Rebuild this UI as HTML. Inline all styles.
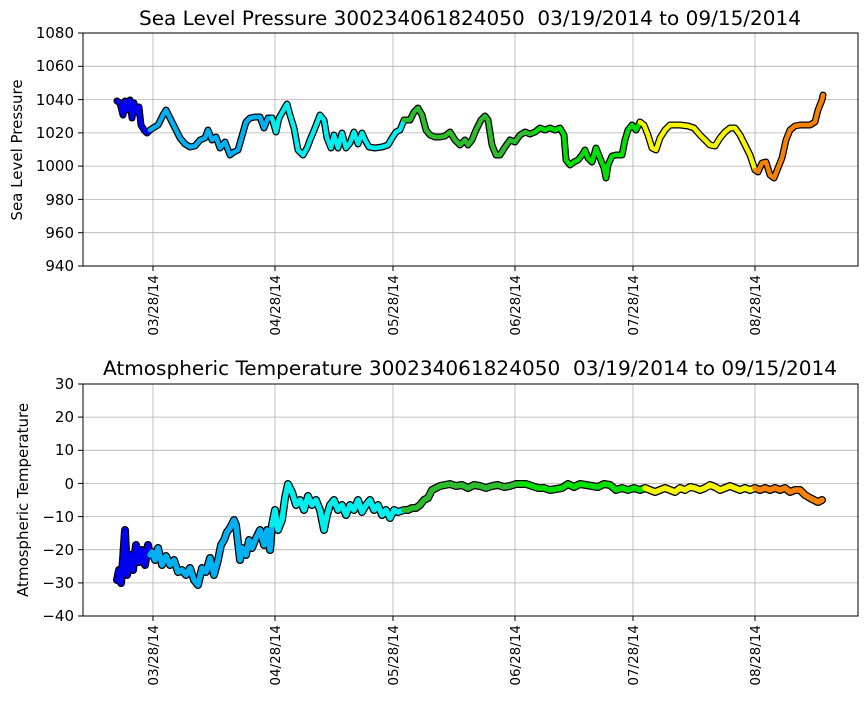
<!DOCTYPE html>
<html><head><meta charset="utf-8"><style>
body{margin:0;background:#fff}
svg text{font-family:"DejaVu Sans","Liberation Sans",sans-serif;fill:#000}
.t{white-space:pre}
</style></head><body>
<svg width="867" height="700" viewBox="0 0 867 700" xmlns="http://www.w3.org/2000/svg">
<g stroke="#b0b0b0" stroke-width="0.8">
<line x1="153" y1="33" x2="153" y2="266"/><line x1="275" y1="33" x2="275" y2="266"/><line x1="393" y1="33" x2="393" y2="266"/><line x1="515" y1="33" x2="515" y2="266"/><line x1="633" y1="33" x2="633" y2="266"/><line x1="755" y1="33" x2="755" y2="266"/>
<line x1="83" y1="66.3" x2="858" y2="66.3"/><line x1="83" y1="99.6" x2="858" y2="99.6"/><line x1="83" y1="132.9" x2="858" y2="132.9"/><line x1="83" y1="166.1" x2="858" y2="166.1"/><line x1="83" y1="199.4" x2="858" y2="199.4"/><line x1="83" y1="232.7" x2="858" y2="232.7"/>
<line x1="153" y1="384" x2="153" y2="616"/><line x1="275" y1="384" x2="275" y2="616"/><line x1="393" y1="384" x2="393" y2="616"/><line x1="515" y1="384" x2="515" y2="616"/><line x1="633" y1="384" x2="633" y2="616"/><line x1="755" y1="384" x2="755" y2="616"/>
<line x1="83" y1="417.1" x2="858" y2="417.1"/><line x1="83" y1="450.3" x2="858" y2="450.3"/><line x1="83" y1="483.4" x2="858" y2="483.4"/><line x1="83" y1="516.6" x2="858" y2="516.6"/><line x1="83" y1="549.7" x2="858" y2="549.7"/><line x1="83" y1="582.9" x2="858" y2="582.9"/>
</g>
<g fill="none" stroke-linejoin="round" stroke-linecap="round">
<g stroke="#000" stroke-width="7">
<polyline points="117,101 120,103 123,115 125,101 127,110 130,100 132,118 134,103 136,112 139,107 141,125 144,130 147,133 150,130 153,128 158,125 163,115 166,110 170,118 175,128 180,138 185,144 190,147 195,146 200,140 205,138 208,130 212,140 216,137 220,148 225,142 230,155 234,152 238,150 242,136 246,122 250,118 255,117 260,117 264,128 268,118 272,118 276,132 279,118 287,104 290,115 294,128 298,150 303,155 307,148 310,140 315,128 320,115 324,120 327,138 331,148 334,135 338,148 342,133 346,148 350,143 354,132 358,144 362,133 365,140 369,147 375,148 382,147 388,145 392,138 396,132 400,130 404,120 410,120 414,112 418,108 422,115 426,130 430,135 435,137 440,137 445,136 450,132 455,140 460,145 465,140 468,145 472,140 476,130 481,120 485,116 488,120 492,145 496,155 500,155 505,147 510,140 515,142 520,135 525,132 530,134 535,132 540,128 545,130 550,128 555,130 560,128 564,135 566,160 570,165 574,162 578,160 582,155 585,150 588,158 592,162 596,148 600,158 604,168 606,178 608,165 612,156 616,155 622,155 625,140 628,130 632,125 636,130 640,122 644,125 648,135 652,148 656,150 660,138 665,130 670,125 680,125 688,126 694,128 700,135 705,140 710,145 715,146 720,138 725,132 730,128 735,128 740,135 745,145 750,155 755,170 758,172 762,163 766,162 770,175 774,178 778,168 782,158 786,140 790,130 795,126 800,125 805,125 810,125 815,122 818,110 820,105 822,100 823,95"/>
<polyline stroke-width="8" points="117,580 119,570 121,583 123,560 125,530 127,575 130,555 133,570 136,545 139,562 142,550 145,565 148,545 150,555 152,552 155,560 158,548 162,565 166,556 170,565 174,560 178,572 182,570 186,575 190,568 194,580 198,585 202,568 206,572 210,558 214,575 218,560 221,545 224,540 227,532 230,528 234,520 236,525 240,560 242,548 246,555 249,540 252,548 256,538 260,530 264,545 267,530 270,550 272,525 275,510 278,530 282,520 285,498 288,484 292,492 296,505 300,500 304,510 308,496 312,505 316,500 320,510 324,530 327,515 330,505 334,500 338,510 342,505 346,515 350,505 354,510 358,500 362,512 366,505 370,500 374,510 378,505 382,515 386,510 390,518 394,510 398,512 404,510 408,510 412,508 416,508 420,505 424,500 428,498 432,490 436,488 440,486 445,485 450,484 456,486 462,485 468,488 474,485 480,486 486,488 492,486 498,485 504,487 510,486 516,484 520,484 526,484 532,486 538,488 544,488 550,490 556,489 562,488 568,484 574,487 580,484 586,485 592,486 598,487 604,484 610,485 616,490 622,488 628,490 634,488 640,490 645,488 650,490 655,492 660,490 665,488 670,490 675,492 680,488 685,490 690,487 695,488 700,490 705,488 710,485 715,487 720,490 725,488 730,486 735,488 740,490 745,488 750,490 755,488 760,490 765,488 770,490 775,488 780,490 785,488 790,492 795,490 800,490 805,495 810,498 814,500 818,502 822,500"/>
</g>
<g stroke-width="4.5">
<polyline stroke="#0000f0" points="117,101 120,103 123,115 125,101 127,110 130,100 132,118 134,103 136,112 139,107 141,125 144,130 147,133 150,130"/>
<polyline stroke="#00b0f0" points="150,130 153,128 158,125 163,115 166,110 170,118 175,128 180,138 185,144 190,147 195,146 200,140 205,138 208,130 212,140 216,137 220,148 225,142 230,155 234,152 238,150 242,136 246,122 250,118 255,117 260,117 264,128 268,118 272,118"/>
<polyline stroke="#00eeee" points="272,118 276,132 279,118 287,104 290,115 294,128 298,150 303,155 307,148 310,140 315,128 320,115 324,120 327,138 331,148 334,135 338,148 342,133 346,148 350,143 354,132 358,144 362,133 365,140 369,147 375,148 382,147 388,145 392,138 396,132 400,130 404,120"/>
<polyline stroke="#2cbc2c" points="404,120 410,120 414,112 418,108 422,115 426,130 430,135 435,137 440,137 445,136 450,132 455,140 460,145 465,140 468,145 472,140 476,130 481,120 485,116 488,120 492,145 496,155 500,155 505,147 510,140 515,142 520,135 525,132 530,134 535,132"/>
<polyline stroke="#00e000" points="535,132 540,128 545,130 550,128 555,130 560,128 564,135 566,160 570,165 574,162 578,160 582,155 585,150 588,158 592,162 596,148 600,158 604,168 606,178 608,165 612,156 616,155 622,155 625,140 628,130 632,125 636,130 640,122"/>
<polyline stroke="#f5f500" points="640,122 644,125 648,135 652,148 656,150 660,138 665,130 670,125 680,125 688,126 694,128 700,135 705,140 710,145 715,146 720,138 725,132 730,128 735,128 740,135 745,145 750,155 755,170"/>
<polyline stroke="#f58200" points="755,170 758,172 762,163 766,162 770,175 774,178 778,168 782,158 786,140 790,130 795,126 800,125 805,125 810,125 815,122 818,110 820,105 822,100 823,95"/>
</g>
<g stroke-width="5.5">
<polyline stroke="#0000f0" points="117,580 119,570 121,583 123,560 125,530 127,575 130,555 133,570 136,545 139,562 142,550 145,565 148,545 150,555"/>
<polyline stroke="#00b0f0" points="150,555 152,552 155,560 158,548 162,565 166,556 170,565 174,560 178,572 182,570 186,575 190,568 194,580 198,585 202,568 206,572 210,558 214,575 218,560 221,545 224,540 227,532 230,528 234,520 236,525 240,560 242,548 246,555 249,540 252,548 256,538 260,530 264,545 267,530 270,550 272,525"/>
<polyline stroke="#00eeee" points="272,525 275,510 278,530 282,520 285,498 288,484 292,492 296,505 300,500 304,510 308,496 312,505 316,500 320,510 324,530 327,515 330,505 334,500 338,510 342,505 346,515 350,505 354,510 358,500 362,512 366,505 370,500 374,510 378,505 382,515 386,510 390,518 394,510 398,512 404,510"/>
<polyline stroke="#2cbc2c" points="404,510 408,510 412,508 416,508 420,505 424,500 428,498 432,490 436,488 440,486 445,485 450,484 456,486 462,485 468,488 474,485 480,486 486,488 492,486 498,485 504,487 510,486 516,484 520,484"/>
<polyline stroke="#00e000" points="520,484 526,484 532,486 538,488 544,488 550,490 556,489 562,488 568,484 574,487 580,484 586,485 592,486 598,487 604,484 610,485 616,490 622,488 628,490 634,488 640,490 645,488"/>
<polyline stroke="#f5f500" points="645,488 650,490 655,492 660,490 665,488 670,490 675,492 680,488 685,490 690,487 695,488 700,490 705,488 710,485 715,487 720,490 725,488 730,486 735,488 740,490 745,488 750,490 755,488"/>
<polyline stroke="#f58200" points="755,488 760,490 765,488 770,490 775,488 780,490 785,488 790,492 795,490 800,490 805,495 810,498 814,500 818,502 822,500"/>
</g></g>
<rect x="83" y="33" width="775" height="233" fill="none" stroke="#000" stroke-width="1"/>
<rect x="83" y="384" width="775" height="232" fill="none" stroke="#000" stroke-width="1"/>
<g stroke="#000"><line x1="78" y1="33" x2="83" y2="33"/><line x1="78" y1="66.3" x2="83" y2="66.3"/><line x1="78" y1="99.6" x2="83" y2="99.6"/><line x1="78" y1="132.9" x2="83" y2="132.9"/><line x1="78" y1="166.1" x2="83" y2="166.1"/><line x1="78" y1="199.4" x2="83" y2="199.4"/><line x1="78" y1="232.7" x2="83" y2="232.7"/><line x1="78" y1="266" x2="83" y2="266"/>
<line x1="78" y1="384" x2="83" y2="384"/><line x1="78" y1="417.1" x2="83" y2="417.1"/><line x1="78" y1="450.3" x2="83" y2="450.3"/><line x1="78" y1="483.4" x2="83" y2="483.4"/><line x1="78" y1="516.6" x2="83" y2="516.6"/><line x1="78" y1="549.7" x2="83" y2="549.7"/><line x1="78" y1="582.9" x2="83" y2="582.9"/><line x1="78" y1="616" x2="83" y2="616"/>
<line x1="153" y1="266" x2="153" y2="271"/><line x1="275" y1="266" x2="275" y2="271"/><line x1="393" y1="266" x2="393" y2="271"/><line x1="515" y1="266" x2="515" y2="271"/><line x1="633" y1="266" x2="633" y2="271"/><line x1="755" y1="266" x2="755" y2="271"/>
<line x1="153" y1="616" x2="153" y2="621"/><line x1="275" y1="616" x2="275" y2="621"/><line x1="393" y1="616" x2="393" y2="621"/><line x1="515" y1="616" x2="515" y2="621"/><line x1="633" y1="616" x2="633" y2="621"/><line x1="755" y1="616" x2="755" y2="621"/></g>
<g font-size="15" text-anchor="end">
<text x="74" y="38">1080</text><text x="74" y="71">1060</text><text x="74" y="105">1040</text><text x="74" y="138">1020</text><text x="74" y="171">1000</text><text x="74" y="205">980</text><text x="74" y="238">960</text><text x="74" y="271">940</text>
<text x="74" y="389">30</text><text x="74" y="422">20</text><text x="74" y="455">10</text><text x="74" y="489">0</text><text x="74" y="522">−10</text><text x="74" y="555">−20</text><text x="74" y="588">−30</text><text x="74" y="621">−40</text>
</g>
<g font-size="13.5" text-anchor="end">
<text transform="translate(158,275) rotate(-90)">03/28/14</text><text transform="translate(280,275) rotate(-90)">04/28/14</text><text transform="translate(398,275) rotate(-90)">05/28/14</text><text transform="translate(520,275) rotate(-90)">06/28/14</text><text transform="translate(638,275) rotate(-90)">07/28/14</text><text transform="translate(760,275) rotate(-90)">08/28/14</text>
<text transform="translate(158,625) rotate(-90)">03/28/14</text><text transform="translate(280,625) rotate(-90)">04/28/14</text><text transform="translate(398,625) rotate(-90)">05/28/14</text><text transform="translate(520,625) rotate(-90)">06/28/14</text><text transform="translate(638,625) rotate(-90)">07/28/14</text><text transform="translate(760,625) rotate(-90)">08/28/14</text>
</g>
<text class="t" x="470" y="25" font-size="19.5" text-anchor="middle" textLength="662" lengthAdjust="spacingAndGlyphs">Sea Level Pressure 300234061824050  03/19/2014 to 09/15/2014</text>
<text class="t" x="470" y="375" font-size="19.5" text-anchor="middle" textLength="734" lengthAdjust="spacingAndGlyphs">Atmospheric Temperature 300234061824050  03/19/2014 to 09/15/2014</text>
<text transform="translate(22,150) rotate(-90)" font-size="15" text-anchor="middle">Sea Level Pressure</text>
<text transform="translate(28,500) rotate(-90)" font-size="15" text-anchor="middle">Atmospheric Temperature</text>
</svg>
</body></html>
